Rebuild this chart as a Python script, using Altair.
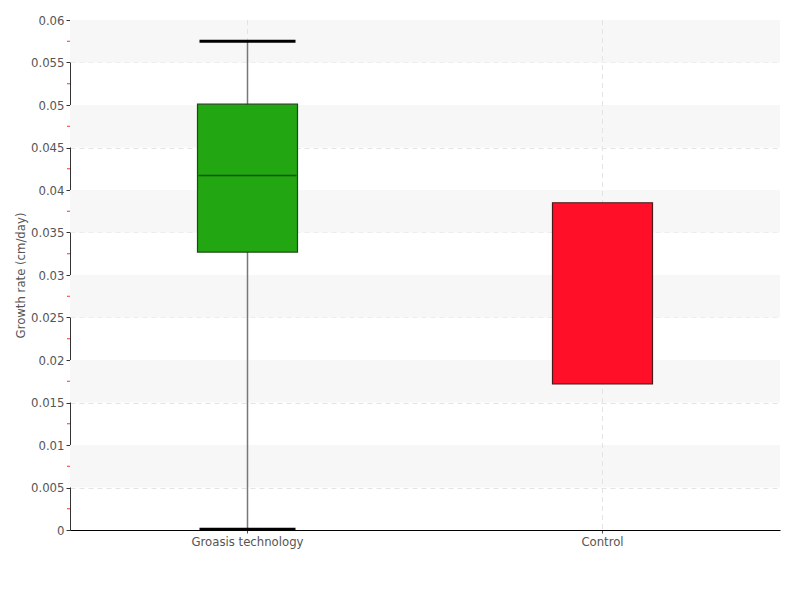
import altair as alt
import pandas as pd

# ---- data ----
categories = ["Groasis technology", "Control"]
whisker_low = [0.0001, None]
q1 = [0.0327, 0.0172]
median = [0.0417, None]
q3 = [0.0501, 0.0385]
whisker_high = [0.0575, None]
box_colors = ["#22a612", "#ff0f28"]
box_strokes = ["#1d4a14", "#4a1a1a"]

y_major = [0.0, 0.005, 0.01, 0.015, 0.02, 0.025, 0.03, 0.035, 0.04,
           0.045, 0.05, 0.055, 0.06]
y_minor = [0.0025, 0.0075, 0.0125, 0.0175, 0.0225, 0.0275, 0.0325,
           0.0375, 0.0425, 0.0475, 0.0525, 0.0575]
band_lo = [0.005, 0.015, 0.025, 0.035, 0.045, 0.055]
band_hi = [0.01, 0.02, 0.03, 0.04, 0.05, 0.06]

FONT = "'Liberation Sans Narrow', 'DejaVu Sans Condensed', sans-serif"

df = pd.DataFrame({
    "cat": categories, "lo": whisker_low, "q1": q1, "med": median,
    "q3": q3, "hi": whisker_high,
})
bands = pd.DataFrame({"b0": band_lo, "b1": band_hi})
minors = pd.DataFrame({"m": y_minor})

yscale = alt.Scale(domain=[0, 0.06], nice=False, zero=True)
xscale = alt.Scale(domain=categories, paddingInner=0, paddingOuter=0)

y_axis = alt.Axis(
    title="Growth rate (cm/day)",
    values=y_major,
    labelExpr="format(datum.value, '~g')",
    tickColor="#333333", tickSize=4,
    grid=True, gridColor="#e3e3e3", gridDash=[5, 4], gridWidth=1,
    domainColor="#333333", labelColor="#555555", labelFont=FONT, labelFontSize=13,
    titleFont=FONT, titleFontSize=13, titleFontWeight="normal", titleColor="#555555",
    labelPadding=2, titlePadding=3,
)
x_axis = alt.Axis(
    title=None, labelAngle=0, grid=False,
    domainColor="#000000", tickColor="#555555", tickSize=3,
    labelColor="#555555", labelFont=FONT, labelFontSize=13, labelPadding=2,
)

x_enc = alt.X("cat:N", sort=categories, scale=xscale, axis=x_axis)

band_layer = alt.Chart(bands).mark_rect(color="#f7f7f7").encode(
    y=alt.Y("b0:Q", scale=yscale, axis=y_axis),
    y2="b1:Q",
)

minor_ticks = alt.Chart(minors).mark_rule(color="#ff3030", strokeWidth=1).encode(
    y=alt.Y("m:Q", scale=yscale),
    x=alt.value(-3), x2=alt.value(0),
)

base = alt.Chart(df)

vgrid = base.mark_rule(color="#e3e3e3", strokeDash=[5, 4], strokeWidth=1).encode(
    x=x_enc,
)

whisker = base.mark_rule(color="#777777", strokeWidth=1.5).encode(
    x=x_enc, y=alt.Y("lo:Q", scale=yscale), y2="hi:Q",
).transform_filter("isValid(datum.lo)")

box = base.mark_bar(size=100, strokeWidth=1.2, opacity=1).encode(
    x=x_enc,
    y=alt.Y("q1:Q", scale=yscale),
    y2="q3:Q",
    color=alt.Color("cat:N", scale=alt.Scale(domain=categories, range=box_colors), legend=None),
    stroke=alt.Stroke("cat:N", scale=alt.Scale(domain=categories, range=box_strokes), legend=None),
)

med = base.mark_tick(size=98, thickness=1.5, color="#17520f", opacity=1).encode(
    x=x_enc, y=alt.Y("med:Q", scale=yscale),
).transform_filter("isValid(datum.med)")

cap_hi = base.mark_tick(size=96, thickness=3, color="#000000", opacity=1).encode(
    x=x_enc, y=alt.Y("hi:Q", scale=yscale),
).transform_filter("isValid(datum.hi)")

cap_lo = base.mark_tick(size=96, thickness=3, color="#000000", opacity=1).encode(
    x=x_enc, y=alt.Y("lo:Q", scale=yscale),
).transform_filter("isValid(datum.lo)")

chart = alt.layer(band_layer, vgrid, minor_ticks, whisker, box, med, cap_hi, cap_lo).properties(
    width=710, height=510,
    background="white",
    autosize=alt.AutoSizeParams(type="none"),
    padding={"left": 62, "top": 12, "right": 12, "bottom": 62},
).configure_view(stroke="transparent", strokeWidth=0)

chart.save("out.html", embed_options={"renderer": "svg", "actions": False})
